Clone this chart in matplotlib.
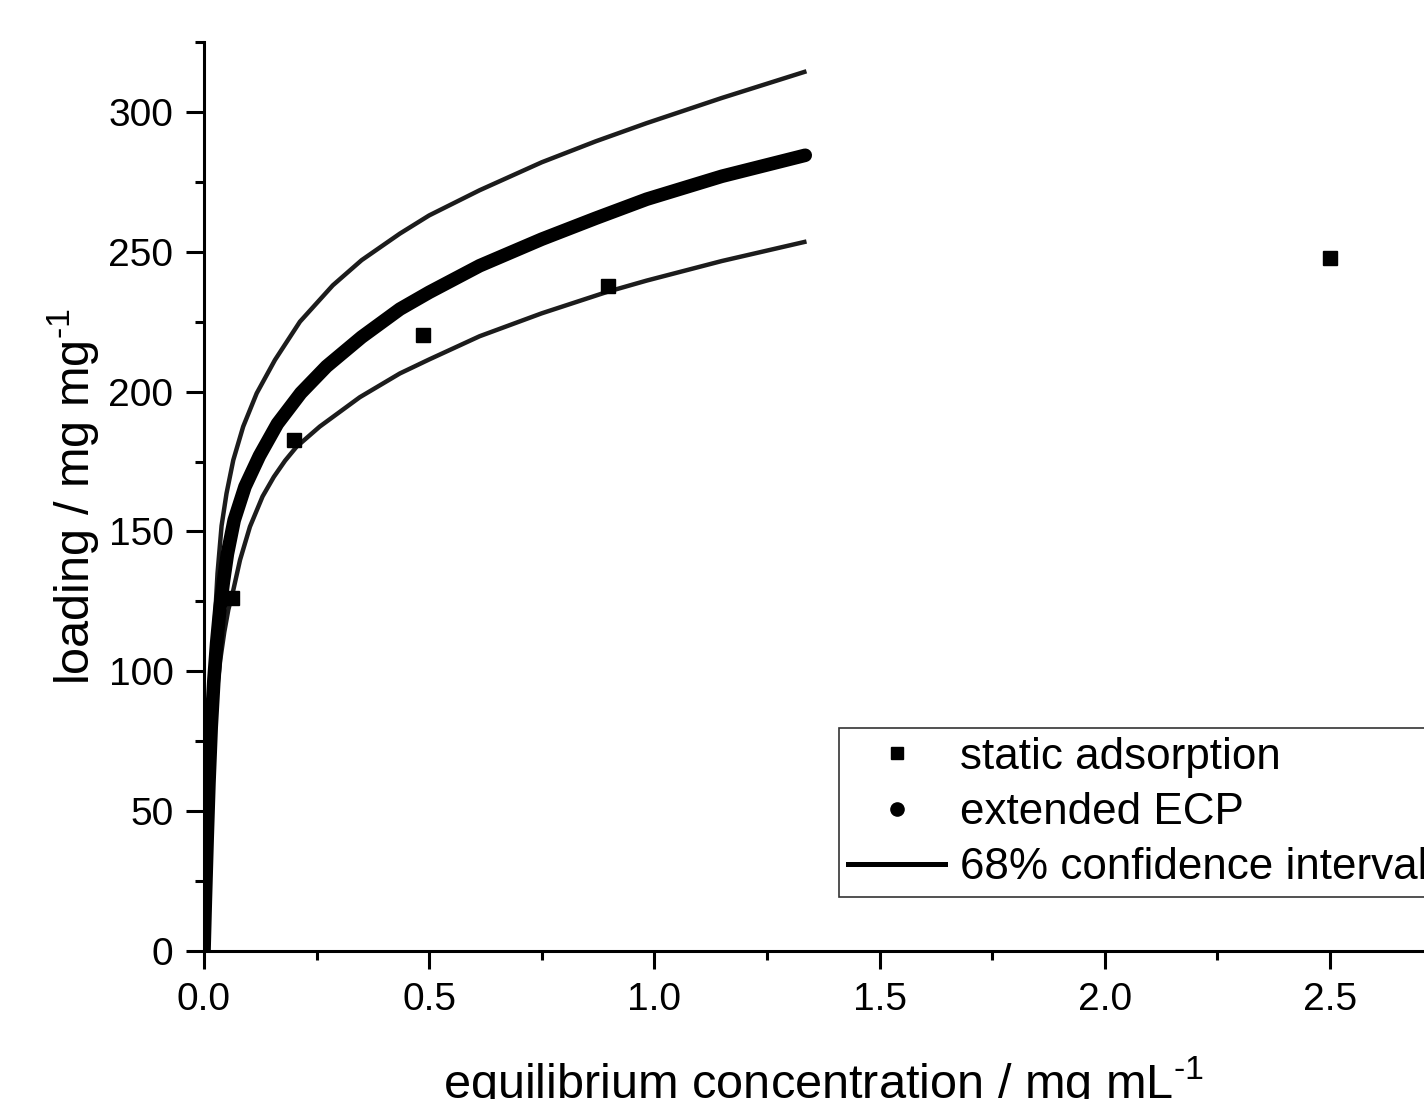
import matplotlib
matplotlib.use("Agg")
import matplotlib.pyplot as plt
from matplotlib.lines import Line2D
from matplotlib.ticker import MultipleLocator, FormatStrFormatter

# ---- data ----
static_x = [0.062, 0.200, 0.486, 0.897, 2.500]
static_y = [126.2, 182.7, 220.3, 237.6, 247.9]

ecp_x = [0.000, 0.003, 0.007, 0.011, 0.016, 0.022, 0.028, 0.035, 0.043, 0.052,
         0.067, 0.091, 0.123, 0.163, 0.215, 0.272, 0.350, 0.435, 0.500, 0.612,
         0.750, 0.870, 0.983, 1.150, 1.335]
ecp_y = [0.0, 18.0, 40.0, 60.0, 80.0, 97.0, 110.0, 122.0, 132.0, 142.0,
         154.0, 166.0, 177.0, 188.5, 199.5, 209.0, 219.5, 229.5, 235.5, 245.0,
         254.5, 262.0, 268.8, 277.0, 284.5]

upper_x = [0.000, 0.003, 0.007, 0.011, 0.016, 0.022, 0.030, 0.039, 0.050, 0.065,
           0.087, 0.117, 0.1575, 0.213, 0.286, 0.350, 0.435, 0.500, 0.612, 0.750,
           0.870, 0.983, 1.150, 1.333]
upper_y = [0.0, 20.0, 43.0, 65.0, 88.0, 112.0, 135.0, 152.0, 163.6, 175.5,
           187.5, 199.4, 211.3, 225.0, 238.0, 247.0, 256.5, 263.0, 272.0, 282.0,
           289.5, 296.0, 305.0, 314.3]

lower_x = [0.000, 0.004, 0.009, 0.014, 0.020, 0.028, 0.036, 0.045, 0.054, 0.065,
           0.080, 0.102, 0.130, 0.155, 0.180, 0.2056, 0.257, 0.346, 0.435, 0.500,
           0.612, 0.750, 0.896, 0.983, 1.150, 1.333]
lower_y = [0.0, 20.0, 42.0, 60.0, 76.0, 92.0, 104.0, 114.0, 122.0, 129.0,
           139.8, 151.7, 162.5, 169.5, 175.3, 180.3, 187.5, 198.0, 206.5, 211.5,
           219.8, 228.0, 235.7, 239.7, 246.7, 253.5]

x_ticks = [0.0, 0.5, 1.0, 1.5, 2.0, 2.5]
y_ticks = [0, 50, 100, 150, 200, 250, 300]

legend_labels = ["static adsorption", "extended ECP", "68% confidence interval"]
xlabel = "equilibrium concentration / mg mL$^{\\mathregular{\u2010}\\mathregular{1}}$"
ylabel = "loading / mg mg$^{\\mathregular{\u2010}\\mathregular{1}}$"

# ---- style ----
plt.rcParams['font.family'] = ['Liberation Sans', 'DejaVu Sans']
plt.rcParams['mathtext.fontset'] = 'custom'
plt.rcParams['mathtext.rm'] = 'Liberation Sans'

W, H = 1424, 1099
fig = plt.figure(figsize=(W / 100, H / 100), dpi=100)
ax = fig.add_axes([204 / W, 148 / H, 1238.5 / W, 909 / H])

ax.plot(upper_x, upper_y, color='#1c1c1c', lw=3.2, zorder=2)
ax.plot(lower_x, lower_y, color='#1c1c1c', lw=3.2, zorder=2)
ax.plot(ecp_x, ecp_y, color='black', lw=9.8, solid_capstyle='round',
        solid_joinstyle='round', zorder=2.5)
ax.plot(static_x, static_y, ls='none', marker='s', ms=10, color='black', zorder=3)

ax.set_xlim(0, 2.75)
ax.set_ylim(0, 325)
ax.set_xticks(x_ticks)
ax.set_yticks(y_ticks)
ax.xaxis.set_major_formatter(FormatStrFormatter('%.1f'))
ax.xaxis.set_minor_locator(MultipleLocator(0.25))
ax.yaxis.set_minor_locator(MultipleLocator(25))

for s in ['top', 'right']:
    ax.spines[s].set_visible(False)
for s in ['left', 'bottom']:
    ax.spines[s].set_linewidth(2.2)

ax.tick_params(which='major', direction='out', length=13, width=2.2,
               labelsize=28, pad=9)
ax.tick_params(which='minor', direction='out', length=6.5, width=2.2)

ax.set_xlabel(xlabel, fontsize=35)
ax.set_ylabel(ylabel, fontsize=35)
ax.xaxis.set_label_coords(0.5, -0.113)
ax.yaxis.set_label_coords(-0.083, 0.5)

handles = [
    Line2D([], [], ls='none', marker='s', ms=8.5, color='black'),
    Line2D([], [], ls='none', marker='o', ms=9.5, color='black'),
    Line2D([], [], color='black', lw=3.6),
]
leg = ax.legend(handles, legend_labels, loc='upper left',
                bbox_to_anchor=(0.513, 0.2453), fontsize=31.7, frameon=True,
                fancybox=False, edgecolor='black', handlelength=2.2,
                handletextpad=0.35, borderpad=0.2, labelspacing=0.32,
                borderaxespad=0.0)
leg.get_frame().set_linewidth(1.2)

fig.savefig('out.png', dpi=100)
